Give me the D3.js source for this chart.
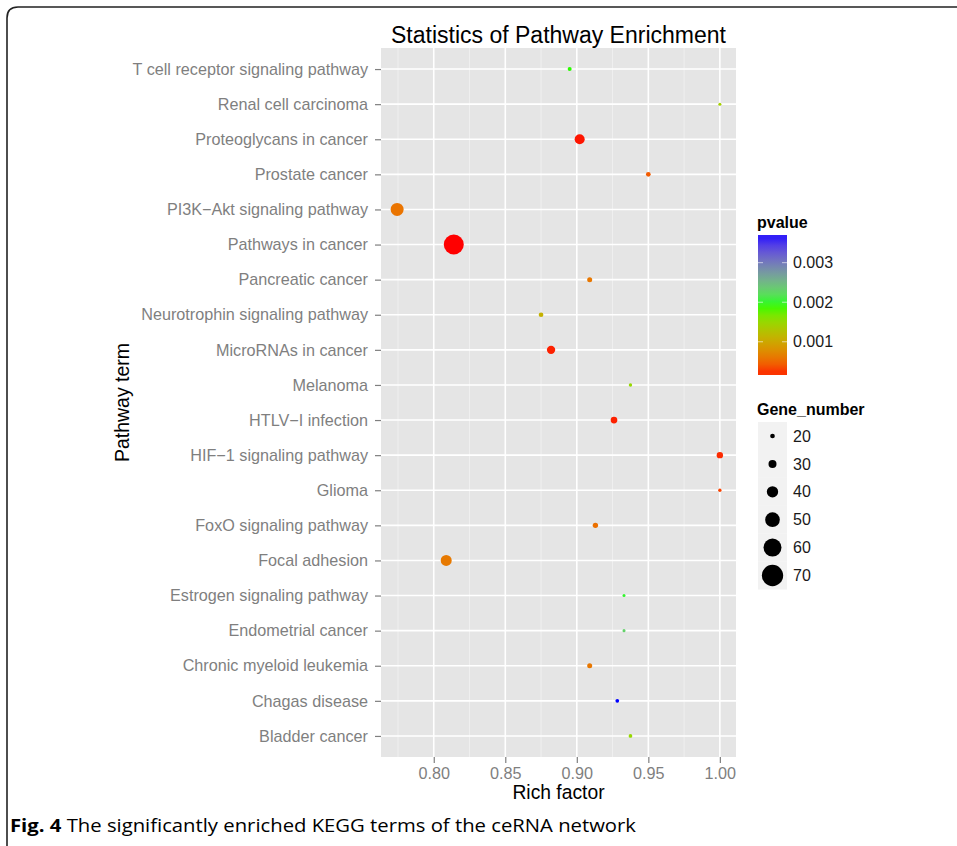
<!DOCTYPE html>
<html>
<head>
<meta charset="utf-8">
<script src="https://cdn.jsdelivr.net/npm/d3@7"></script>
<style>
  body { margin: 0; background: #fff; }
  svg { display: block; }
</style>
</head>
<body>
<div id="chart"></div>
<script>
// pathway terms, top to bottom
const pathways = [
  "T cell receptor signaling pathway",
  "Renal cell carcinoma",
  "Proteoglycans in cancer",
  "Prostate cancer",
  "PI3K\u2212Akt signaling pathway",
  "Pathways in cancer",
  "Pancreatic cancer",
  "Neurotrophin signaling pathway",
  "MicroRNAs in cancer",
  "Melanoma",
  "HTLV\u2212I infection",
  "HIF\u22121 signaling pathway",
  "Glioma",
  "FoxO signaling pathway",
  "Focal adhesion",
  "Estrogen signaling pathway",
  "Endometrial cancer",
  "Chronic myeloid leukemia",
  "Chagas disease",
  "Bladder cancer"
]
const richFactor = [0.895, 1.0, 0.902, 0.95, 0.7744, 0.814, 0.909, 0.875, 0.882, 0.9375,
  0.926, 1.0, 1.0, 0.913, 0.8087, 0.933, 0.933, 0.909, 0.9283, 0.9375]
const geneNumber = [18, 15, 36, 20, 45, 66, 21, 20, 31, 16,
  26, 25, 16, 22, 39, 15, 15, 21, 17, 17]
const pValue = [0.0019, 0.0014, 0.00018, 0.00042, 0.00058, 0.00016, 0.0006, 0.0011, 0.0002, 0.0015,
  0.0002, 0.00022, 0.0003, 0.00055, 0.00062, 0.002, 0.0023, 0.0006, 0.0037, 0.0015]

const xTicks = [0.80, 0.85, 0.90, 0.95, 1.00]
const pTicks = [0.001, 0.002, 0.003]
const sizeBreaks = [20, 30, 40, 50, 60, 70]

const W = 957, H = 846
const panel = {left: 381, right: 736, top: 48, bottom: 757}
const FONT = "'Liberation Sans', Arial, sans-serif"

const svg = d3.select("#chart").append("svg")
  .attr("width", W).attr("height", H)
  .attr("font-family", FONT)

// figure frame (rounded box cut by the page edges)
svg.append("path")
  .attr("d", "M7,852 L7,18 Q7,7 18,7 L965,7")
  .attr("fill", "none").attr("stroke", "#222").attr("stroke-width", 1.6)

// scales
const ext = d3.extent(richFactor)
const pad = (ext[1] - ext[0]) * 0.05
const x = d3.scaleLinear()
  .domain([ext[0] - pad, ext[1] + pad])
  .range([panel.left, panel.right])

const y = d3.scalePoint()
  .domain(pathways)
  .range([panel.top, panel.bottom])
  .padding(0.6)

const pExt = d3.extent(pValue)
const color = d3.scaleLinear()
  .domain([pExt[0], (pExt[0] + pExt[1]) / 2, pExt[1]])
  .range(["#ff0000", "#00ff00", "#0000ff"])
  .interpolate(d3.interpolateLab)

// diameter linear in gene number
const size = d3.scaleLinear().domain([20, 70]).range([4.7, 21.3])

// panel
svg.append("rect")
  .attr("x", panel.left).attr("y", panel.top)
  .attr("width", panel.right - panel.left).attr("height", panel.bottom - panel.top)
  .attr("fill", "#e5e5e5")

const minor = d3.range(xTicks.length + 1).map(i => xTicks[0] - 0.025 + i * 0.05)
  .filter(v => v > x.domain()[0] && v < x.domain()[1])
svg.append("g").selectAll("line").data(minor).join("line")
  .attr("x1", d => x(d)).attr("x2", d => x(d))
  .attr("y1", panel.top).attr("y2", panel.bottom)
  .attr("stroke", "#f2f2f2").attr("stroke-width", 0.8)

svg.append("g").selectAll("line").data(xTicks).join("line")
  .attr("x1", d => x(d)).attr("x2", d => x(d))
  .attr("y1", panel.top).attr("y2", panel.bottom)
  .attr("stroke", "#fff").attr("stroke-width", 1.6)

svg.append("g").selectAll("line").data(pathways).join("line")
  .attr("x1", panel.left).attr("x2", panel.right)
  .attr("y1", d => y(d)).attr("y2", d => y(d))
  .attr("stroke", "#fff").attr("stroke-width", 1.6)

// points
const rows = pathways.map((p, i) => ({name: p, rich: richFactor[i], gene: geneNumber[i], p: pValue[i]}))
svg.append("g").selectAll("circle").data(rows).join("circle")
  .attr("cx", d => x(d.rich))
  .attr("cy", d => y(d.name))
  .attr("r", d => size(d.gene) / 2)
  .attr("fill", d => color(d.p))

// axes
const yAxis = svg.append("g")
  .attr("transform", `translate(${panel.left},0)`)
  .call(d3.axisLeft(y).tickSize(6).tickPadding(7))
const xAxis = svg.append("g")
  .attr("transform", `translate(0,${panel.bottom})`)
  .call(d3.axisBottom(x).tickValues(xTicks).tickFormat(d3.format(".2f")).tickSize(6).tickPadding(4))

for (const ax of [yAxis, xAxis]) {
  ax.select(".domain").remove()
  ax.selectAll(".tick line").attr("stroke", "#7f7f7f").attr("stroke-width", 1.2)
  ax.selectAll(".tick text").attr("fill", "#7f7f7f")
    .attr("font-size", 16.2).attr("font-family", FONT)
}

// titles
svg.append("text")
  .attr("x", (panel.left + panel.right) / 2).attr("y", 43)
  .attr("text-anchor", "middle").attr("font-size", 23)
  .text("Statistics of Pathway Enrichment")

svg.append("text")
  .attr("x", (panel.left + panel.right) / 2).attr("y", 799)
  .attr("text-anchor", "middle").attr("font-size", 19.3)
  .text("Rich factor")

svg.append("text")
  .attr("transform", `translate(129,${(panel.top + panel.bottom) / 2}) rotate(-90)`)
  .attr("text-anchor", "middle").attr("font-size", 19.5)
  .text("Pathway term")

// colour legend
const bar = {x: 758, y: 235, w: 29, h: 140}
svg.append("text")
  .attr("x", 757).attr("y", 228)
  .attr("font-size", 16).attr("font-weight", "bold")
  .text("pvalue")

const pBar = d3.scaleLinear().domain(pExt).range([bar.y + bar.h, bar.y])
const grad = svg.append("defs").append("linearGradient")
  .attr("id", "pgrad").attr("x1", 0).attr("y1", 1).attr("x2", 0).attr("y2", 0)
// 20 bins like the ggplot colourbar, smoothed between bin centres
const nbin = 20
grad.selectAll("stop").data(d3.range(nbin)).join("stop")
  .attr("offset", i => (i + 0.5) / nbin)
  .attr("stop-color", i => color(pExt[0] + (i + 0.5) / nbin * (pExt[1] - pExt[0])))
svg.append("rect")
  .attr("x", bar.x).attr("y", bar.y).attr("width", bar.w).attr("height", bar.h)
  .attr("fill", "url(#pgrad)")

const pt = svg.append("g").selectAll("g").data(pTicks).join("g")
pt.append("line")
  .attr("x1", bar.x).attr("x2", bar.x + 5)
  .attr("y1", d => pBar(d)).attr("y2", d => pBar(d))
  .attr("stroke", "#fff").attr("stroke-opacity", 0.6)
pt.append("line")
  .attr("x1", bar.x + bar.w - 5).attr("x2", bar.x + bar.w)
  .attr("y1", d => pBar(d)).attr("y2", d => pBar(d))
  .attr("stroke", "#fff").attr("stroke-opacity", 0.6)
pt.append("text")
  .attr("x", bar.x + bar.w + 6).attr("y", d => pBar(d))
  .attr("dy", "0.35em").attr("font-size", 16).attr("fill", "#1a1a1a")
  .text(d => d3.format(".3f")(d))

// size legend
svg.append("text")
  .attr("x", 757).attr("y", 415)
  .attr("font-size", 16).attr("font-weight", "bold")
  .text("Gene_number")

const keyY = d3.scalePoint().domain(sizeBreaks).range([436, 575.5])
const key = svg.append("g").selectAll("g").data(sizeBreaks).join("g")
  .attr("transform", d => `translate(772.5,${keyY(d)})`)
key.append("rect")
  .attr("x", -14.5).attr("y", -14).attr("width", 29).attr("height", 28)
  .attr("fill", "#f2f2f2")
key.append("circle")
  .attr("r", d => size(d) / 2).attr("fill", "#000")
key.append("text")
  .attr("x", 20.5).attr("dy", "0.35em")
  .attr("font-size", 16).attr("fill", "#1a1a1a")
  .text(d => d)

// caption
const cap = svg.append("text")
  .attr("x", 10).attr("y", 832)
  .attr("font-family", "'Open Sans', sans-serif").attr("font-size", 18)
  .attr("textLength", 626).attr("lengthAdjust", "spacingAndGlyphs")
cap.append("tspan").attr("font-weight", "bold").text("Fig. 4")
cap.append("tspan").text(" The significantly enriched KEGG terms of the ceRNA network")
</script>
</body>
</html>
